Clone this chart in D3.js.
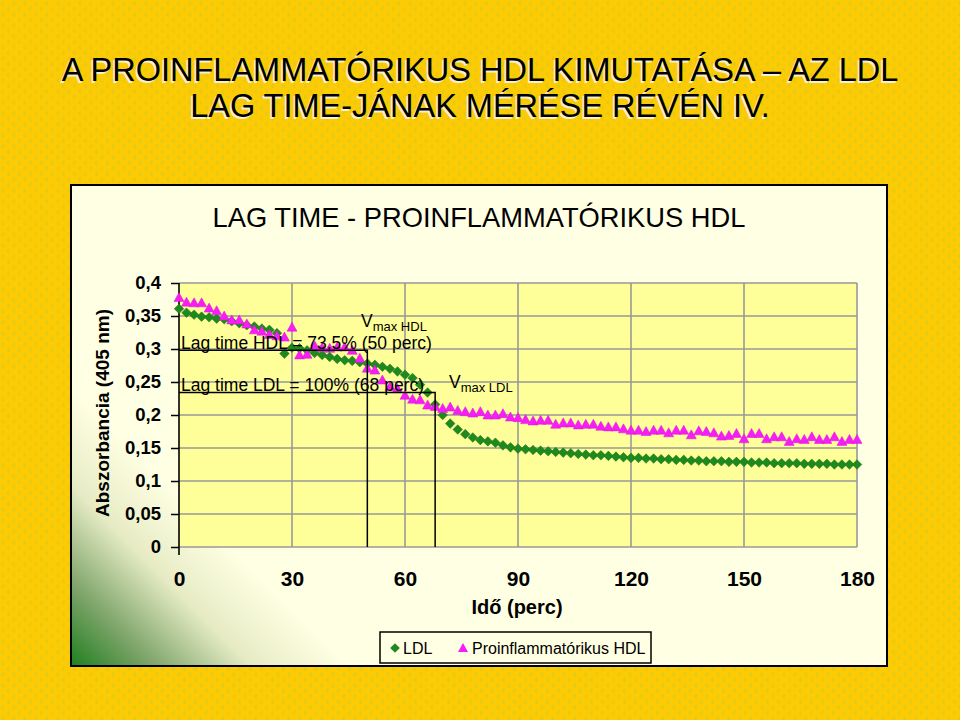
<!DOCTYPE html>
<html><head><meta charset="utf-8">
<script src="https://cdn.jsdelivr.net/npm/d3@7"></script>
<style>body{margin:0;padding:0;background:#FCCB04;}svg{display:block;}</style>
</head><body>
<script>
const times = [0,2,4,6,8,10,12,14,16,18,20,22,24,26,28,30,32,34,36,38,40,42,44,46,48,50,52,54,56,58,60,62,64,66,68,70,72,74,76,78,80,82,84,86,88,90,92,94,96,98,100,102,104,106,108,110,112,114,116,118,120,122,124,126,128,130,132,134,136,138,140,142,144,146,148,150,152,154,156,158,160,162,164,166,168,170,172,174,176,178,180];
const ldl = [0.361,0.355,0.352,0.349,0.348,0.346,0.345,0.342,0.339,0.336,0.334,0.331,0.329,0.324,
 0.293,0.302,0.301,0.298,0.294,0.291,0.288,0.285,0.283,0.282,0.280,0.278,0.276,0.273,0.270,0.266,0.261,0.256,
 0.246,0.234,0.216,0.200,0.187,0.178,0.171,0.166,0.162,0.160,0.158,0.154,0.151,0.149,
 0.148,0.147,0.146,0.145,0.144,0.143,0.142,0.141,0.140,0.139,0.139,0.138,0.137,0.136,
 0.135,0.135,0.134,0.134,0.133,0.133,0.132,0.132,0.131,0.131,0.130,0.130,0.130,0.129,0.129,0.129,0.128,0.128,0.128,0.127,0.127,0.127,0.127,0.126,0.126,0.126,0.126,0.125,0.125,0.125,0.125];
const hdl = [0.378,0.371,0.370,0.370,0.362,0.358,0.350,0.344,0.344,0.338,0.329,0.327,0.322,0.320,0.318,0.333,
 0.291,0.292,0.305,0.302,0.301,0.303,0.303,0.298,0.286,0.271,0.268,0.253,0.243,0.240,0.230,0.224,
 0.223,0.215,0.213,0.210,0.212,0.207,0.205,0.203,0.205,0.200,0.200,0.202,0.197,0.196,
 0.193,0.191,0.192,0.192,0.186,0.188,0.188,0.185,0.186,0.186,0.183,0.182,0.182,0.179,
 0.177,0.177,0.175,0.177,0.177,0.173,0.177,0.177,0.170,0.176,0.175,0.173,0.168,0.169,0.172,0.164,0.172,0.172,0.164,0.167,0.167,0.160,0.164,0.163,0.167,0.163,0.163,0.167,0.160,0.163,0.163];
const xTicks = [0,30,60,90,120,150,180];
const yTicks = [0,0.05,0.1,0.15,0.2,0.25,0.3,0.35,0.4];
const yTickLabels = ["0","0,05","0,1","0,15","0,2","0,25","0,3","0,35","0,4"];
const seriesNames = ["LDL","Proinflammatórikus HDL"];
const slideTitle = ["A PROINFLAMMATÓRIKUS HDL KIMUTATÁSA – AZ LDL","LAG TIME-JÁNAK MÉRÉSE RÉVÉN IV."];
const chartTitle = "LAG TIME - PROINFLAMMATÓRIKUS HDL";
const yTitle = "Abszorbancia (405 nm)";
const xTitle = "Idő (perc)";
const lagHDL = {t:50, v:0.298, label:"Lag time HDL = 73,5% (50 perc)"};
const lagLDL = {t:68, v:0.234, label:"Lag time LDL = 100% (68 perc)"};

const W=960,H=720;
const FONT="'Liberation Sans', Arial, sans-serif";
const svg=d3.select("body").append("svg").attr("width",W).attr("height",H);
const defs=svg.append("defs");
const pat=defs.append("pattern").attr("id","bgpat").attr("width",11).attr("height",11).attr("patternUnits","userSpaceOnUse");
pat.append("rect").attr("width",11).attr("height",11).attr("fill","#FCCB04");
pat.append("path").attr("d","M4,1.5L2,3.5L4,5.5").attr("fill","none").attr("stroke","#DCCB1C").attr("stroke-width",1.3);
pat.append("path").attr("d","M9.5,7L7.5,9L9.5,11").attr("fill","none").attr("stroke","#DCCB1C").attr("stroke-width",1.3);
svg.append("rect").attr("width",W).attr("height",H).attr("fill","url(#bgpat)");

const grad=defs.append("linearGradient").attr("id","pgrad").attr("gradientUnits","userSpaceOnUse")
 .attr("x1",71).attr("y1",666).attr("x2",210).attr("y2",527);
grad.append("stop").attr("offset",0).attr("stop-color","#1F7F1F");
grad.append("stop").attr("offset",0.3).attr("stop-color","#7FA56B");
grad.append("stop").attr("offset",0.65).attr("stop-color","#E6EBC4");
grad.append("stop").attr("offset",1).attr("stop-color","#FFFFE3");

// slide title
slideTitle.forEach((t,i)=>{
  const yy=[81,117][i];
  svg.append("text").attr("x",480-1.5).attr("y",yy+1.5).attr("text-anchor","middle").attr("font-family",FONT)
    .attr("font-size",32.5).attr("fill","#F4F0D8").text(t);
  svg.append("text").attr("x",480).attr("y",yy).attr("text-anchor","middle").attr("font-family",FONT)
    .attr("font-size",32.5).attr("fill","#000").text(t);
});

// panel
svg.append("rect").attr("x",71).attr("y",185).attr("width",816).attr("height",481)
  .attr("fill","url(#pgrad)").attr("stroke","#000").attr("stroke-width",2);

svg.append("text").attr("x",479).attr("y",227).attr("text-anchor","middle").attr("font-family",FONT)
  .attr("font-size",27.3).attr("fill","#000").text(chartTitle);

const x=d3.scaleLinear().domain([0,180]).range([179,857]);
const y=d3.scaleLinear().domain([0,0.4]).range([547,283]);

// plot area
svg.append("rect").attr("x",x(0)).attr("y",y(0.4)).attr("width",x(180)-x(0)).attr("height",y(0)-y(0.4)).attr("fill","#FFFF99");
const grid=svg.append("g").attr("stroke","#999").attr("stroke-width",1.6);
grid.selectAll("line.h").data(yTicks).join("line").attr("x1",x(0)).attr("x2",x(180)).attr("y1",d=>y(d)).attr("y2",d=>y(d));
grid.selectAll("line.v").data(xTicks.slice(1)).join("line").attr("y1",y(0)).attr("y2",y(0.4)).attr("x1",d=>x(d)).attr("x2",d=>x(d));

// y axis
const yAxis=svg.append("g").attr("transform",`translate(${x(0)},0)`)
  .call(d3.axisLeft(y).tickValues(yTicks).tickSize(8).tickSizeOuter(0).tickPadding(10).tickFormat((d,i)=>yTickLabels[i]));
yAxis.select(".domain").remove();
yAxis.selectAll(".tick line").attr("stroke","#000").attr("stroke-width",1.5);
yAxis.selectAll("text").attr("font-family",FONT).attr("font-size",18.5).attr("font-weight","bold").attr("fill","#000");
svg.append("line").attr("x1",x(0)).attr("x2",x(0)).attr("y1",y(0.4)).attr("y2",y(0)+8).attr("stroke","#000").attr("stroke-width",1.6);

// x axis
const xAxis=svg.append("g").attr("transform",`translate(0,${y(0)})`)
  .call(d3.axisBottom(x).tickValues(xTicks).tickSize(0).tickPadding(24));
xAxis.select(".domain").remove();
xAxis.selectAll("text").attr("font-family",FONT).attr("font-size",21).attr("font-weight","bold").attr("fill","#000");

svg.append("text").attr("transform","translate(109,413) rotate(-90)").attr("text-anchor","middle")
  .attr("font-family",FONT).attr("font-size",19).attr("font-weight","bold").text(yTitle);
svg.append("text").attr("x",517).attr("y",614).attr("text-anchor","middle")
  .attr("font-family",FONT).attr("font-size",20).attr("font-weight","bold").text(xTitle);

// series
const diamond="M0,-4.8L4.8,0L0,4.8L-4.8,0Z";
const tri="M0,-5L5,4L-5,4Z";
svg.append("g").selectAll("path").data(times.map((t,i)=>[t,ldl[i]])).join("path")
  .attr("d",diamond).attr("transform",d=>`translate(${x(d[0])},${y(d[1])})`).attr("fill","#1E8A1E").attr("stroke","#187018").attr("stroke-width",0.5);
svg.append("g").selectAll("path").data(times.map((t,i)=>[t,hdl[i]])).join("path")
  .attr("d",tri).attr("transform",d=>`translate(${x(d[0])},${y(d[1])})`).attr("fill","#F51EF5").attr("stroke","#E010E0").attr("stroke-width",0.5);

// annotations
[lagHDL,lagLDL].forEach(a=>{
  svg.append("path").attr("d",`M${x(0)},${y(a.v)}H${x(a.t)}V${y(0)}`).attr("fill","none").attr("stroke","#000").attr("stroke-width",1.5);
  svg.append("text").attr("x",x(0)+2).attr("y",y(a.v)-1.5).attr("font-family",FONT).attr("font-size",17.5).attr("fill","#000").text(a.label);
});
function vmax(xx,yy,sub){
  const t=svg.append("text").attr("x",xx).attr("y",yy).attr("font-family",FONT).attr("font-size",17.5).attr("fill","#000");
  t.append("tspan").text("V");
  t.append("tspan").attr("font-size",13).attr("dy",4).text(sub);
}
vmax(361,327,"max HDL");
vmax(449,388,"max LDL");

// legend
const lg=svg.append("g");
lg.append("rect").attr("x",380).attr("y",632).attr("width",271).attr("height",31).attr("fill","#FFFFE3").attr("stroke","#000").attr("stroke-width",1.5);
lg.append("path").attr("d",diamond).attr("transform","translate(395,648)").attr("fill","#1E8A1E");
lg.append("text").attr("x",403).attr("y",654).attr("font-family",FONT).attr("font-size",16).text(seriesNames[0]);
lg.append("path").attr("d",tri).attr("transform","translate(463,648)").attr("fill","#F51EF5");
lg.append("text").attr("x",472).attr("y",654).attr("font-family",FONT).attr("font-size",16).text(seriesNames[1]);
</script>
</body></html>
